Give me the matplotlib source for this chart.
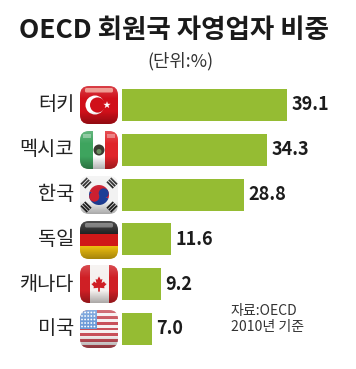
import numpy as np
import matplotlib
matplotlib.use('Agg')
import matplotlib.pyplot as plt
from matplotlib.patches import FancyBboxPatch, Rectangle, Circle, Wedge, Polygon
from matplotlib.colors import LinearSegmentedColormap

plt.rcParams['font.family'] = ['Noto Sans CJK KR', 'DejaVu Sans']

countries = ['터키', '멕시코', '한국', '독일', '캐나다', '미국']
values = [39.1, 34.3, 28.8, 11.6, 9.2, 7.0]
value_labels = ['39.1', '34.3', '28.8', '11.6', '9.2', '7.0']
title = 'OECD 회원국 자영업자 비중'
unit = '(단위:%)'
source = '자료:OECD\n2010년 기준'

W, H = 356, 369
fig = plt.figure(figsize=(W / 100, H / 100), dpi=100, facecolor='white')

# overlay in pixel coordinates for decoration
px = fig.add_axes([0, 0, 1, 1])
px.set_xlim(0, W)
px.set_ylim(H, 0)
px.axis('off')

# bar axes: x=122px is zero, 4.22 px per unit; rows 44.8 px apart
top, bottom = 82.6, 351.4
ax = fig.add_axes([122 / W, 1 - bottom / H, 234 / W, (bottom - top) / H])
ax.set_xlim(0, 234 / 4.22)
ax.set_ylim(5.5, -0.5)
ax.axis('off')
ax.patch.set_alpha(0)
ypos = np.arange(len(values))
ax.barh(ypos, values, height=0.715, color='#95BC33')
for y, v, lab in zip(ypos, values, value_labels):
    ax.annotate(lab, (v, y), xytext=(3.5, 0), textcoords='offset points',
                ha='left', va='center', fontsize=13.0, fontweight='bold', color='#1c1c1c')
for y, c in zip(ypos, countries):
    ax.annotate(c, (0, y), xytext=(-34.5, 0), textcoords='offset points',
                ha='right', va='center', fontsize=14.2, color='#222222')

px.text(174, 30, title, ha='center', va='center', fontsize=19.1, fontweight='bold', color='#1a1a1a')
px.text(180, 61, unit, ha='center', va='center', fontsize=12.8, fontweight='light', color='#333333')
px.text(231, 319, source, ha='left', va='center', fontsize=10.1, fontweight='light', color='#333333', linespacing=1.25)

gloss = LinearSegmentedColormap.from_list('g', [(1, 1, 1, 0.2), (1, 1, 1, 0), (0, 0, 0, 0), (0, 0, 0, 0.3)])


def icon(cy, draw, cx=99, size=38):
    x0, y0 = cx - size / 2, cy - size / 2
    box = FancyBboxPatch((x0 + 9, y0 + 9), size - 18, size - 18, boxstyle='round,pad=9,rounding_size=9',
                         fc='white', ec='none', zorder=2)
    px.add_patch(box)
    for art in draw(x0, y0, size):
        art.set_zorder(3)
        px.add_artist(art)
        art.set_clip_path(box)
    im = px.imshow(np.linspace(0, 1, 64)[:, None], cmap=gloss, extent=(x0, x0 + size, y0 + size, y0),
                   aspect='auto', zorder=5, interpolation='bilinear')
    im.set_clip_path(box)
    px.set_xlim(0, W)
    px.set_ylim(H, 0)


def shine(x0, y0, s, color='white', alpha=0.45):
    return FancyBboxPatch((x0 + 6, y0 + 3), s - 12, 2.5, boxstyle='round,pad=1,rounding_size=1.5',
                          fc=color, ec='none', alpha=alpha)


def turkey(x, y, s):
    cx, cy = x + 15, y + s * 0.5
    star = [(x + 27 + r * np.cos(a), cy + r * np.sin(a))
            for a, r in zip(np.linspace(-np.pi / 2, 1.5 * np.pi, 11)[:-1], [3.8, 1.5] * 5)]
    return [Rectangle((x, y), s, s, fc='#D0101A', ec='none'),
            Circle((cx, cy), 9.5, fc='white', ec='none'),
            Circle((cx + 2.6, cy), 7.6, fc='#D0101A', ec='none'),
            Polygon(star, fc='white', ec='none'),
            shine(x, y, s, '#F5B0A0', 0.8)]


def mexico(x, y, s):
    t = s / 3
    return [Rectangle((x, y), t, s, fc='#3EA45E', ec='none'),
            Rectangle((x + t, y), t, s, fc='white', ec='none'),
            Rectangle((x + 2 * t, y), t, s, fc='#E0242A', ec='none'),
            Circle((x + s / 2, y + s / 2), 5.5, fc='#3a3a30', ec='none'),
            Circle((x + s / 2, y + s / 2 + 1.5), 2.5, fc='#6a8a60', ec='none'),
            Rectangle((x + 3, y + 2.5), t - 5, 4, fc='white', alpha=0.35, ec='none'),
            Rectangle((x + 2 * t + 2, y + 2.5), t - 5, 4, fc='white', alpha=0.35, ec='none')]


def korea(x, y, s):
    cx, cy = x + s / 2, y + s / 2
    arts = [Rectangle((x, y), s, s, fc='#F2F2F2', ec='none'),
            Wedge((cx, cy), 10, 200, 20, fc='#CC1F30', ec='none'),
            Wedge((cx, cy), 10, 20, 200, fc='#1E3E96', ec='none'),
            Circle((cx - 4.7, cy + 1.7), 5, fc='#CC1F30', ec='none'),
            Circle((cx + 4.7, cy - 1.7), 5, fc='#1E3E96', ec='none')]
    for dx, dy, a in [(-13, -12, 45), (13, -12, -45), (-13, 12, -45), (13, 12, 45)]:
        for k in (-2.6, 0, 2.6):
            n = np.radians(a)
            mx, my = cx + dx + k * np.cos(n), cy + dy + k * np.sin(n)
            ux, uy = -np.sin(n) * 4.5, np.cos(n) * 4.5
            wx, wy = np.cos(n) * 0.9, np.sin(n) * 0.9
            arts.append(Polygon([(mx - ux - wx, my - uy - wy), (mx + ux - wx, my + uy - wy),
                                 (mx + ux + wx, my + uy + wy), (mx - ux + wx, my - uy + wy)],
                                fc='#222222', ec='none'))
    return arts


def germany(x, y, s):
    t = s / 3
    return [Rectangle((x, y), s, t, fc='#222222', ec='none'),
            Rectangle((x, y + t), s, t, fc='#D01818', ec='none'),
            Rectangle((x, y + 2 * t), s, t, fc='#EDBE10', ec='none'),
            shine(x, y, s, 'white', 0.35)]


def canada(x, y, s):
    cx, cy = x + s / 2, y + s / 2
    leaf = np.array([(0, -9), (2, -5), (4, -6), (3, -1), (6, -3), (7, -1), (9, 0), (6, 3), (6.5, 5),
                     (1, 4.5), (1, 9), (-1, 9), (-1, 4.5), (-6.5, 5), (-6, 3), (-9, 0), (-7, -1),
                     (-6, -3), (-3, -1), (-4, -6), (-2, -5)]) * [0.85, 0.85] + [cx, cy]
    return [Rectangle((x, y), s, s, fc='#F5F1EF', ec='none'),
            Rectangle((x, y), s * 0.25, s, fc='#CF1F25', ec='none'),
            Rectangle((x + s * 0.75, y), s * 0.25, s, fc='#CF1F25', ec='none'),
            Polygon(leaf, fc='#CF1F25', ec='none')]


def usa(x, y, s):
    arts = []
    n = 13
    for i in range(n):
        arts.append(Rectangle((x, y + i * s / n), s, s / n + 0.2, fc='#C8505A' if i % 2 == 0 else '#F6F0F0', ec='none'))
    arts.append(Rectangle((x, y), s * 0.45, s * 0.5, fc='#6C9AD8', ec='none'))
    for i in range(5):
        for j in range(5):
            arts.append(Circle((x + 2 + j * 3.1, y + 2.5 + i * 3.5), 0.9, fc='white', ec='none'))
    return arts


for cy, fn in zip([105, 150, 195, 240, 284, 329], [turkey, mexico, korea, germany, canada, usa]):
    icon(cy, fn)

fig.savefig('out.png', dpi=100)
